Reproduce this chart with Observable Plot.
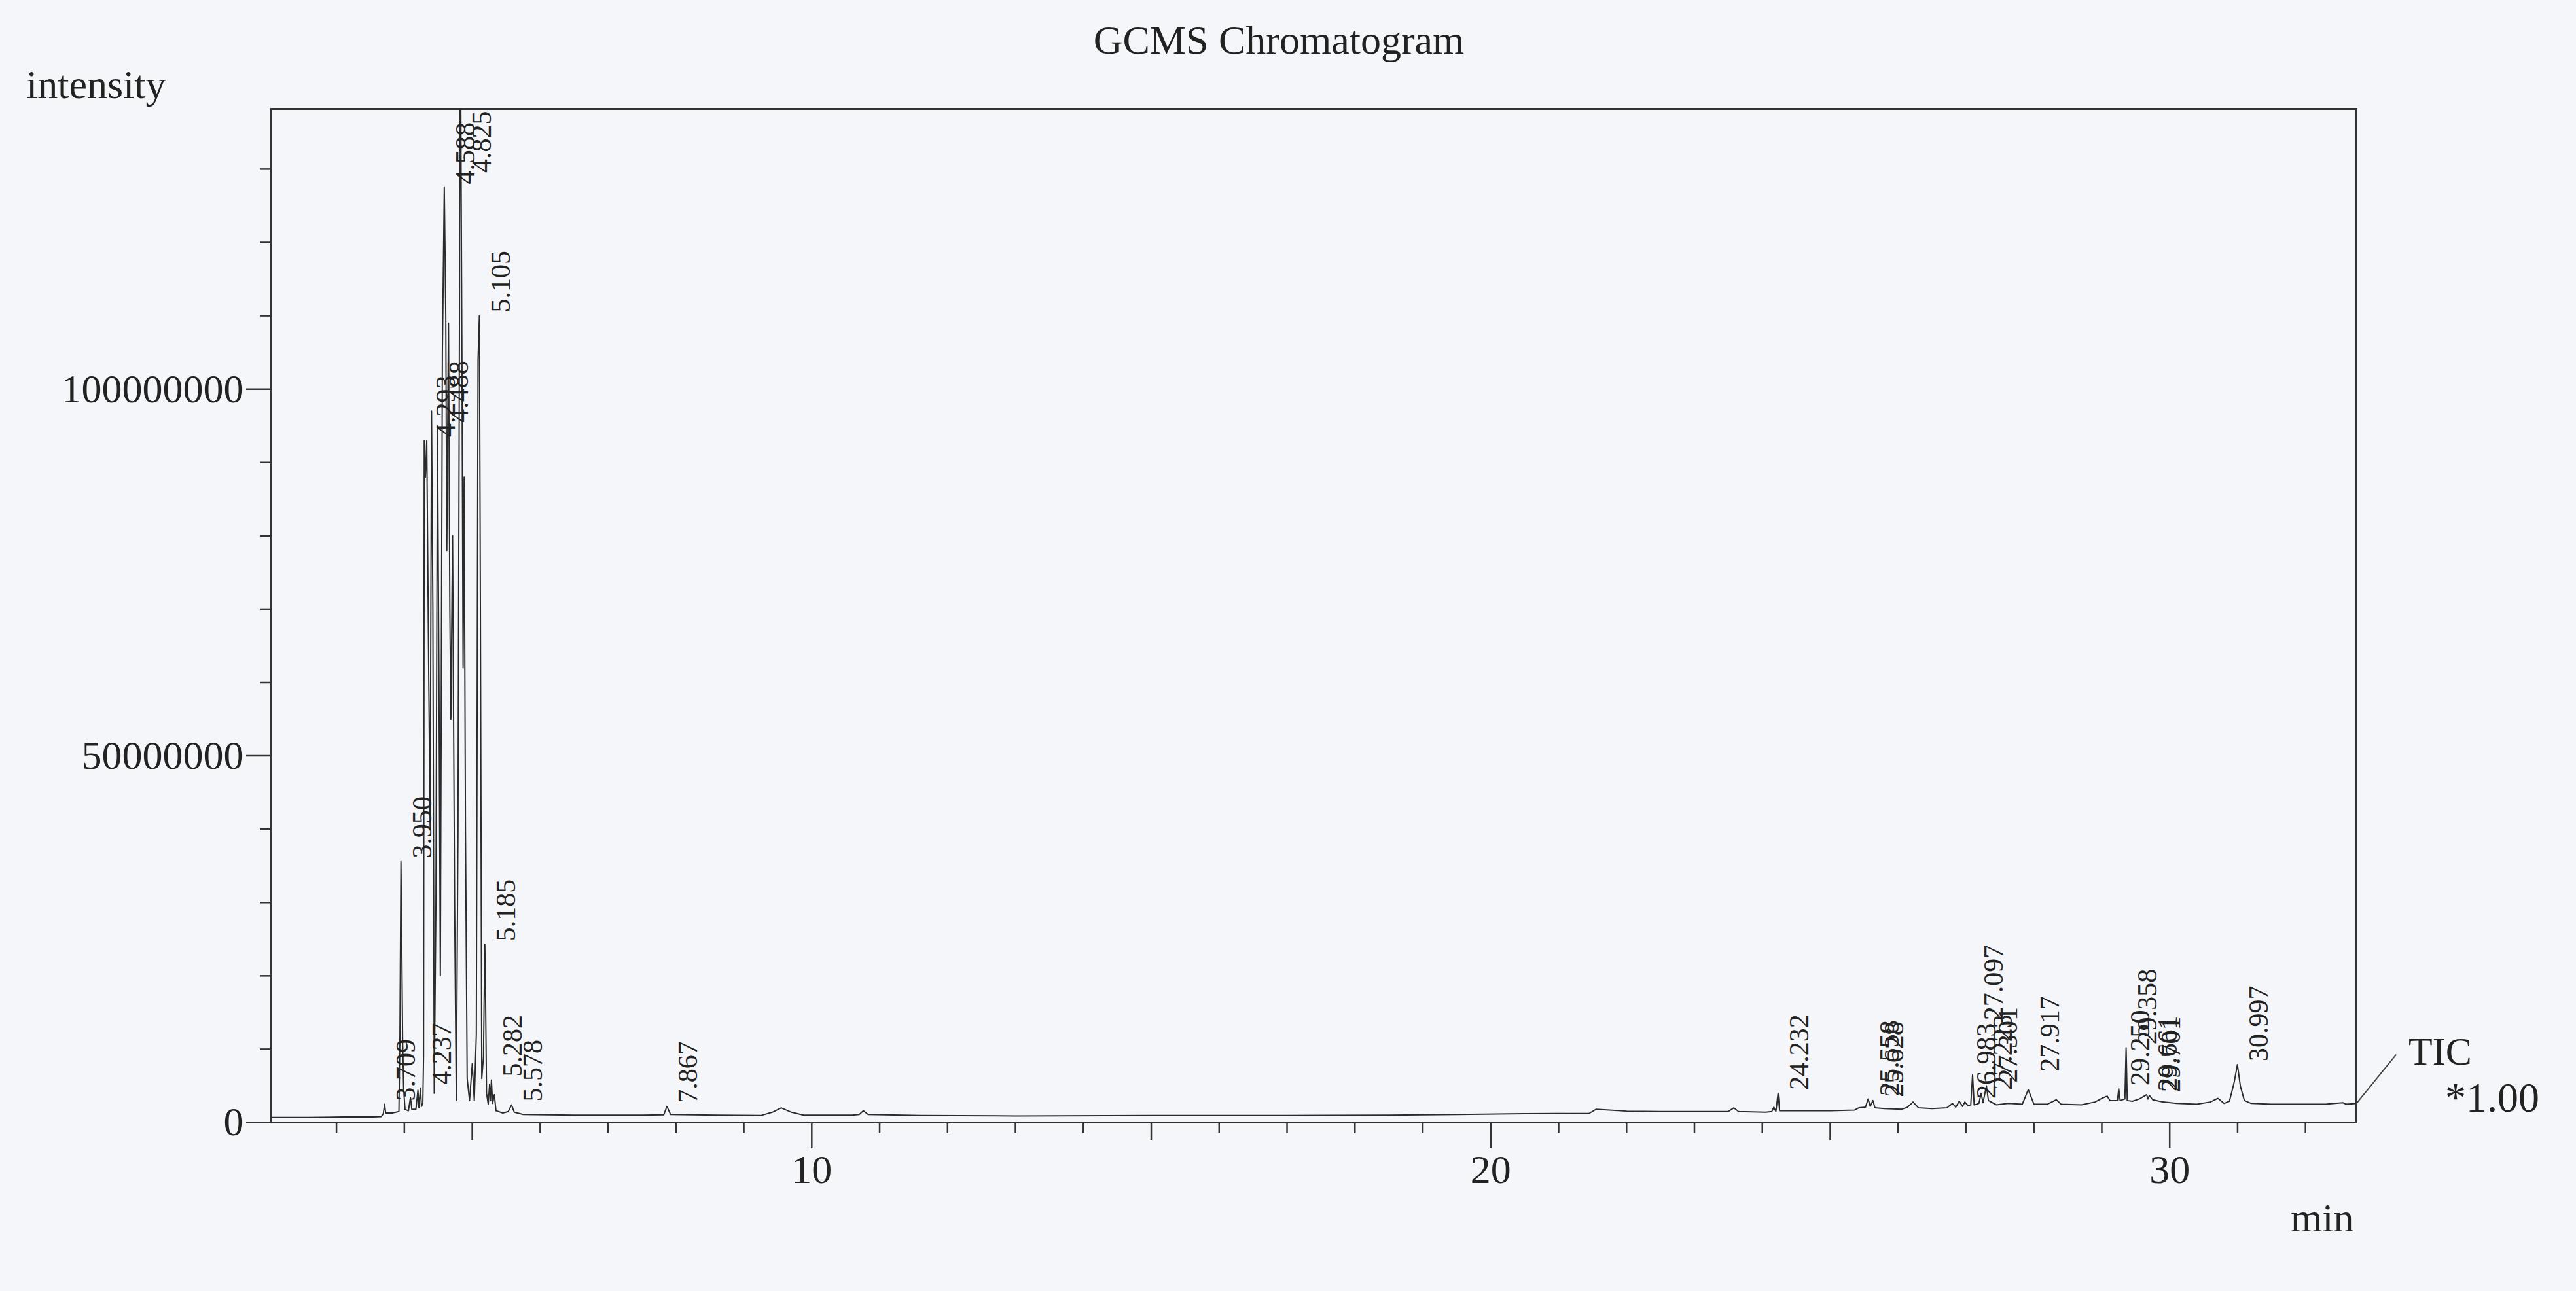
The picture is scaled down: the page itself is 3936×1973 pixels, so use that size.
<!DOCTYPE html>
<html><head><meta charset="utf-8">
<script src="https://cdn.jsdelivr.net/npm/d3@7"></script>
<script src="https://cdn.jsdelivr.net/npm/@observablehq/plot@0.6"></script>
<style>
html,body{margin:0;padding:0;background:#f4f6f9;}
#page{position:relative;width:3936px;height:1973px;overflow:hidden;font-family:"Liberation Serif","Times New Roman",serif;color:#222;}
#titlebar{position:relative;height:100px;}
.note{position:absolute;line-height:1;white-space:nowrap;font-family:"Liberation Serif","Times New Roman",serif;color:#222;}
</style></head>
<body>
<div id="page">
 <div id="titlebar"><span class="note" style="left:1954px;top:30px;font-size:62px;transform:translateX(-50%);">GCMS Chromatogram</span></div>
 <div id="chart"></div>
 <span class="note" style="left:40px;top:98px;font-size:62px;">intensity</span>
 <span class="note" style="left:3500px;top:1830px;font-size:62px;">min</span>
 <span class="note" style="left:3680px;top:1577px;font-size:60px;">TIC</span>
 <span class="note" style="left:3736px;top:1646px;font-size:64px;">*1.00</span>
</div>
<script>
// Retention time (min) and TIC intensity (millions of counts)
const timeMin = [
 2.04, 2.60, 3.10, 3.55, 3.66, 3.69, 3.709, 3.725, 3.82, 3.92,
 3.935, 3.950, 3.962, 3.975, 3.99, 4.01, 4.06, 4.09, 4.11, 4.17,
 4.20, 4.215, 4.237, 4.252, 4.272, 4.283, 4.293, 4.31, 4.33, 4.36,
 4.38, 4.40, 4.42, 4.44, 4.465, 4.488, 4.51, 4.53, 4.56, 4.588,
 4.61, 4.625, 4.65, 4.67, 4.685, 4.71, 4.74, 4.765, 4.79, 4.825,
 4.85, 4.865, 4.88, 4.90, 4.925, 4.96, 5.00, 5.03, 5.06, 5.085,
 5.105, 5.12, 5.14, 5.165, 5.185, 5.195, 5.21, 5.235, 5.255, 5.27,
 5.282, 5.30, 5.325, 5.35, 5.45, 5.53, 5.578, 5.62, 5.75, 6.50,
 7.50, 7.82, 7.867, 7.92, 8.60, 9.25, 9.42, 9.55, 9.70, 9.88,
 10.60, 10.70, 10.76, 10.83, 11.60, 13.00, 15.00, 17.00, 18.50, 19.50,
 20.50, 21.45, 21.55, 21.75, 22.00, 22.50, 23.00, 23.50, 23.58, 23.65,
 24.05, 24.14, 24.17, 24.20, 24.232, 24.255, 24.50, 25.00, 25.36, 25.42,
 25.52, 25.558, 25.59, 25.628, 25.66, 25.80, 26.05, 26.14, 26.22, 26.30,
 26.50, 26.72, 26.80, 26.85, 26.90, 26.95, 26.983, 27.03, 27.07, 27.097,
 27.12, 27.19, 27.223, 27.25, 27.301, 27.33, 27.45, 27.62, 27.83, 27.917,
 28.00, 28.20, 28.33, 28.40, 28.70, 28.90, 29.00, 29.08, 29.12, 29.23,
 29.250, 29.27, 29.34, 29.358, 29.375, 29.45, 29.55, 29.661, 29.68, 29.701,
 29.75, 29.90, 30.10, 30.40, 30.60, 30.71, 30.80, 30.88, 30.95, 30.997,
 31.04, 31.10, 31.20, 31.50, 31.90, 32.30, 32.55, 32.60, 32.75
];
const intensityM = [
 0.7, 0.7, 0.75, 0.75, 0.8, 1.2, 2.5, 1.3, 1.3, 1.5,
 12, 35.6, 24, 11, 4.5, 1.8, 1.6, 3.4, 1.8, 1.8,
 4.4, 2.0, 4.7, 2.2, 2.6, 9, 93, 88, 93, 60,
 40, 97, 70, 4, 30, 95, 60, 20, 105, 127.5,
 110, 78, 109, 70, 55, 80, 30, 3, 40, 152,
 100, 62, 88, 40, 6, 3, 8, 3, 12, 104,
 110, 70, 6, 9, 24.3, 18, 4, 2.5, 5.2, 3,
 5.8, 2.6, 3.8, 1.6, 1.3, 1.5, 2.4, 1.4, 1.1, 1.0,
 1.0, 1.05, 2.2, 1.1, 1.0, 0.95, 1.4, 2.0, 1.4, 1.0,
 1.0, 1.1, 1.6, 1.1, 0.95, 0.9, 0.95, 0.95, 1.0, 1.1,
 1.2, 1.25, 1.8, 1.7, 1.55, 1.5, 1.5, 1.5, 2.0, 1.5,
 1.4, 1.5, 2.1, 1.5, 4.0, 1.6, 1.6, 1.6, 1.7, 2.0,
 2.1, 3.2, 2.2, 3.0, 2.0, 1.9, 1.8, 2.1, 2.8, 2.0,
 1.9, 2.0, 2.6, 2.1, 2.9, 2.2, 2.8, 2.3, 2.4, 6.5,
 2.4, 2.6, 4.0, 2.7, 5.0, 3.0, 2.4, 2.6, 2.5, 4.5,
 2.5, 2.5, 3.1, 2.5, 2.4, 2.8, 3.3, 3.6, 3.0, 3.0,
 4.6, 3.0, 3.2, 10.2, 3.0, 2.9, 3.2, 3.8, 3.2, 3.7,
 3.1, 2.8, 2.6, 2.5, 2.8, 3.3, 2.6, 2.9, 5.5, 7.9,
 5.0, 3.0, 2.6, 2.5, 2.5, 2.5, 2.7, 2.5, 2.6
];

// Peak annotations: retention time label and the intensity where the label starts
const peakLabel = ["3.709","3.950","4.237","4.293","4.488","4.588","4.825","5.105","5.185","5.282","5.578","7.867",
  "24.232","25.558","25.628","26.983","27.097","27.223","27.301","27.917","29.250","29.358","29.661","29.701","30.997"];
const peakTime = [3.709,3.950,4.237,4.293,4.488,4.588,4.825,5.105,5.185,5.282,5.578,7.867,
  24.232,25.558,25.628,26.983,27.097,27.223,27.301,27.917,29.250,29.358,29.661,29.701,30.997];
const labelBase = [2.5,35.6,4.7,93,95,127.5,152,110,24.3,5.8,2.4,2.2,
  4.0,3.2,3.0,2.8,13.5,4.0,5.0,6.5,4.6,10.2,3.8,3.7,7.9];

// Axis ticks
const xTicksMinor = [3,4,6,7,8,9,11,12,13,14,16,17,18,19,21,22,23,24,26,27,28,29,31,32];
const xTicksMid = [5,15,25];
const xTicksMajor = [10,20,30];
const yTicksMinor = [10,20,30,40,60,70,80,90,110,120,130];
const yTicksMajor = [0,50,100];
const xDomain = [2.04, 32.75];
const yMax = 138.2;

// Leader from the end of the trace to the "TIC" tag
const ticLeaderTime = [32.75, 33.33];
const ticLeaderIntensity = [2.6, 9.2];

const trace = timeMin.map((t, i) => ({t, v: intensityM[i]}));
const peaks = peakLabel.map((s, i) => ({label: s, t: peakTime[i], v: labelBase[i]}));
const inside = peaks.filter(d => d.v <= yMax);
const over = peaks.filter(d => d.v > yMax);
const ticLeader = ticLeaderTime.map((t, i) => ({t, v: ticLeaderIntensity[i]}));

const ink = "#2b2b2b";
const labelFont = {fontFamily: "Liberation Serif", fontSize: 42, fill: "#222"};
const tickStyle = {stroke: "#333", strokeWidth: 2.5, label: null};

const chart = Plot.plot({
  width: 3936, height: 1873,
  marginTop: 66, marginRight: 336, marginBottom: 258, marginLeft: 414,
  style: {background: "transparent", fontFamily: "Liberation Serif", color: "#222", overflow: "visible"},
  x: {domain: xDomain, label: null},
  y: {domain: [0, yMax], label: null},
  marks: [
    Plot.axisX(xTicksMinor, {...tickStyle, tickSize: 17, fill: "none"}),
    Plot.axisX(xTicksMid, {...tickStyle, tickSize: 27, fill: "none"}),
    Plot.axisX(xTicksMajor, {...tickStyle, tickSize: 40, tickPadding: 8, fontSize: 62, fill: "#222", tickFormat: d => String(d)}),
    Plot.axisY(yTicksMinor, {...tickStyle, tickSize: 17, fill: "none"}),
    Plot.axisY(yTicksMajor, {...tickStyle, tickSize: 38, tickPadding: 4, fontSize: 62, fill: "#222", tickFormat: d => String(d * 1000000)}),
    Plot.frame({stroke: "#333", strokeWidth: 3}),
    Plot.line(trace, {x: "t", y: "v", stroke: ink, strokeWidth: 2, clip: true}),
    Plot.line(ticLeader, {x: "t", y: "v", stroke: "#444", strokeWidth: 2}),
    Plot.text(inside, {x: "t", y: "v", text: "label", rotate: -90, textAnchor: "start", dx: 33, dy: -5, ...labelFont}),
    Plot.text(over, {x: "t", y: () => yMax, text: "label", rotate: -90, textAnchor: "end", dx: 33, dy: 3, ...labelFont})
  ]
});
document.getElementById("chart").appendChild(chart);
</script>
</body></html>
